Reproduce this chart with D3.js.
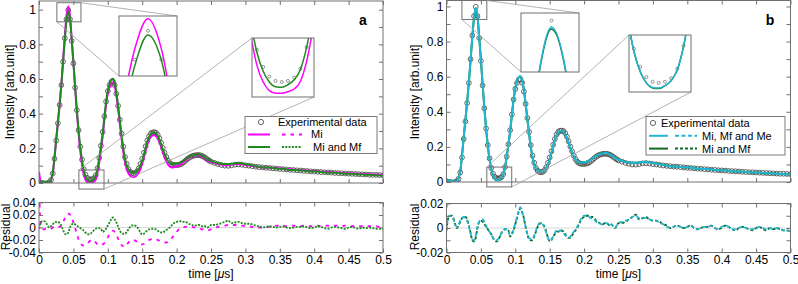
<!DOCTYPE html>
<html>
<head>
<meta charset="utf-8">
<script src="https://cdn.jsdelivr.net/npm/d3@7"></script>
<style>
  body { margin: 0; background: #fff; }
  svg { font-family: "Liberation Sans", Arial, sans-serif; }
</style>
</head>
<body>
<svg id="chart" width="798" height="284"></svg>
<script>
// sample instants of the measurement (us): 2.5 ns steps up to 0.25, then 5 ns
const sampleTimes = d3.range(0, 101).map(i => +(i * 0.0025).toFixed(4))
    .concat(d3.range(1, 51).map(i => +(0.25 + i * 0.005).toFixed(4)));

// experimental intensity (arb. unit)
const expData = [
    0.000, 0.000, -0.002, -0.003, -0.003, -0.001, 0.004, 0.018, 0.055, 0.140,
    0.245, 0.345, 0.450, 0.565, 0.700, 0.835, 0.945, 0.998, 0.945, 0.820,
    0.690, 0.550, 0.420, 0.305, 0.210, 0.135, 0.080, 0.048, 0.030, 0.022,
    0.020, 0.022, 0.028, 0.045, 0.085, 0.145, 0.215, 0.295, 0.385, 0.470,
    0.530, 0.565, 0.583, 0.585, 0.565, 0.515, 0.445, 0.365, 0.285, 0.210,
    0.150, 0.110, 0.080, 0.064, 0.057, 0.055, 0.058, 0.068, 0.085, 0.110,
    0.140, 0.175, 0.212, 0.245, 0.270, 0.285, 0.292, 0.293, 0.290, 0.278,
    0.258, 0.232, 0.202, 0.175, 0.150, 0.130, 0.116, 0.108, 0.104, 0.103,
    0.103, 0.104, 0.107, 0.112, 0.119, 0.127, 0.136, 0.144, 0.150, 0.155,
    0.158, 0.160, 0.161, 0.161, 0.159, 0.155, 0.150, 0.143, 0.136, 0.129,
    0.123,
    0.116, 0.109, 0.104, 0.100, 0.099, 0.102, 0.106, 0.107, 0.105, 0.102,
    0.100, 0.097, 0.094, 0.092, 0.090, 0.088, 0.087, 0.085, 0.083, 0.081,
    0.080, 0.078, 0.076, 0.075, 0.073, 0.072, 0.070, 0.069, 0.067, 0.066,
    0.065, 0.063, 0.062, 0.061, 0.060, 0.058, 0.057, 0.056, 0.055, 0.054,
    0.053, 0.052, 0.051, 0.050, 0.049, 0.048, 0.047, 0.047, 0.046, 0.045
];

// residuals (fit - data) of each model
const residMi = [
    0.065, 0.006, -0.002, -0.003, -0.002, -0.003, -0.003, -0.002, 0.000, 0.002,
    0.002, 0.001, 0.001, 0.003, 0.008, 0.015, 0.020, 0.022, 0.021, 0.016,
    0.008, -0.001, -0.010, -0.019, -0.025, -0.028, -0.029, -0.028, -0.026, -0.023,
    -0.021, -0.020, -0.021, -0.024, -0.027, -0.028, -0.028, -0.027, -0.025, -0.021,
    -0.016, -0.011, -0.007, -0.005, -0.007, -0.012, -0.018, -0.024, -0.028, -0.030,
    -0.031, -0.028, -0.024, -0.021, -0.020, -0.020, -0.021, -0.023, -0.025, -0.027,
    -0.027, -0.026, -0.024, -0.022, -0.020, -0.019, -0.018, -0.018, -0.019, -0.020,
    -0.021, -0.022, -0.023, -0.024, -0.024, -0.023, -0.021, -0.018, -0.014, -0.010,
    -0.007, -0.004, -0.002, 0.000, 0.001, 0.001, 0.001, 0.001, 0.001, 0.001,
    0.000, 0.000, -0.001, -0.001, -0.002, -0.003, -0.004, -0.005, -0.005, -0.004,
    -0.003,
    -0.001, 0.001, 0.002, 0.003, 0.004, 0.004, 0.004, 0.003, 0.003, 0.002,
    0.002, 0.001, 0.001, 0.000, 0.000, 0.001, 0.001, 0.002, 0.003, 0.003,
    0.002, 0.002, 0.003, 0.003, 0.002, 0.002, 0.003, 0.003, 0.002, 0.003,
    0.003, 0.002, 0.003, 0.003, 0.002, 0.003, 0.003, 0.002, 0.003, 0.002,
    0.002, 0.003, 0.002, 0.002, 0.003, 0.002, 0.002, 0.002, 0.001, 0.001
];

const residMiMf = [
    -0.002, 0.008, 0.010, 0.010, 0.008, 0.003, 0.000, 0.002, 0.005, 0.008,
    0.009, 0.009, 0.007, 0.002, -0.004, -0.010, -0.011, -0.008, 0.000, 0.005,
    0.006, 0.005, 0.003, 0.001, -0.001, -0.003, -0.005, -0.008, -0.010, -0.011,
    -0.010, -0.007, -0.004, -0.002, -0.001, -0.001, -0.002, -0.007, -0.005, -0.002,
    0.003, 0.008, 0.013, 0.016, 0.013, 0.008, 0.001, -0.005, -0.009, -0.010,
    -0.010, -0.007, -0.003, 0.001, 0.003, 0.004, 0.003, 0.001, -0.003, -0.008,
    -0.011, -0.010, -0.007, -0.005, -0.003, -0.003, -0.002, -0.002, -0.003, -0.005,
    -0.007, -0.008, -0.008, -0.006, -0.004, -0.002, 0.000, 0.003, 0.006, 0.008,
    0.009, 0.010, 0.010, 0.010, 0.009, 0.009, 0.008, 0.006, 0.005, 0.004,
    0.003, 0.003, 0.004, 0.004, 0.003, 0.002, 0.003, 0.001, 0.000, 0.002,
    0.004,
    0.004, 0.005, 0.007, 0.009, 0.011, 0.007, 0.008, 0.009, 0.007, 0.006,
    0.006, 0.005, 0.003, 0.002, 0.000, 0.001, 0.002, 0.001, 0.000, 0.001,
    0.002, 0.000, -0.001, 0.000, 0.001, 0.001, 0.002, 0.000, -0.001, 0.000,
    0.002, 0.001, -0.001, -0.002, 0.000, 0.001, 0.000, -0.001, -0.002, 0.000,
    0.001, -0.001, -0.002, 0.000, -0.001, 0.000, -0.001, -0.002, -0.002, -0.003
];

const residMiMfMe = [
    -0.002, 0.009, 0.010, 0.009, 0.007, 0.003, 0.001, 0.003, 0.006, 0.008,
    0.009, 0.008, 0.006, 0.001, -0.004, -0.009, -0.010, -0.006, 0.001, 0.005,
    0.007, 0.007, 0.005, 0.002, -0.001, -0.003, -0.005, -0.008, -0.010, -0.010,
    -0.009, -0.007, -0.004, -0.002, -0.001, -0.001, -0.003, -0.006, -0.004, -0.001,
    0.004, 0.009, 0.014, 0.017, 0.013, 0.007, 0.001, -0.005, -0.008, -0.009,
    -0.009, -0.006, -0.002, 0.002, 0.004, 0.004, 0.003, 0.000, -0.004, -0.008,
    -0.010, -0.009, -0.007, -0.004, -0.002, -0.003, -0.002, -0.003, -0.004, -0.006,
    -0.007, -0.008, -0.007, -0.005, -0.003, -0.001, 0.001, 0.004, 0.007, 0.009,
    0.010, 0.010, 0.010, 0.009, 0.008, 0.008, 0.007, 0.005, 0.004, 0.004,
    0.003, 0.003, 0.004, 0.004, 0.003, 0.002, 0.003, 0.001, 0.000, 0.002,
    0.004,
    0.005, 0.006, 0.007, 0.009, 0.010, 0.008, 0.008, 0.008, 0.007, 0.006,
    0.006, 0.004, 0.003, 0.001, 0.000, 0.001, 0.002, 0.001, 0.000, 0.001,
    0.002, 0.000, -0.001, 0.000, 0.001, 0.001, 0.002, 0.000, -0.001, 0.001,
    0.002, 0.001, -0.001, -0.001, 0.000, 0.001, 0.000, -0.001, -0.001, 0.000,
    0.001, 0.000, -0.001, 0.000, -0.001, 0.000, -0.001, -0.002, -0.002, -0.003
];

const xTicks = [0, 0.05, 0.1, 0.15, 0.2, 0.25, 0.3, 0.35, 0.4, 0.45, 0.5];
const xTickLabels = ['0', '0.05', '0.1', '0.15', '0.2', '0.25', '0.3', '0.35', '0.4', '0.45', '0.5'];
const yTicks = [0, 0.1, 0.2, 0.3, 0.4, 0.5, 0.6, 0.7, 0.8, 0.9, 1];
const yTickLabels = ['0', '', '0.2', '', '0.4', '', '0.6', '', '0.8', '', '1'];
const residTicksA = [-0.04, -0.02, 0, 0.02, 0.04];
const residLabelsA = ['-0.04', '-0.02', '0', '0.02', '0.04'];
const residTicksB = [-0.02, -0.01, 0, 0.01, 0.02];
const residLabelsB = ['-0.02', '', '0', '', '0.02'];

const FRAME = '#707070';
const FONT = '"Liberation Sans", Arial, sans-serif';
const svg = d3.select('#chart');

function styleAxis(g) {
    g.attr('font-family', FONT).attr('font-size', 12);
    g.select('.domain').remove();
    g.selectAll('.tick line').attr('stroke', FRAME);
    g.selectAll('.tick text').attr('fill', '#000');
}

function curvePath(xs, ys, values) {
    return d3.line()
        .x((d, i) => xs(sampleTimes[i]))
        .y(d => ys(d))
        .curve(d3.curveMonotoneX)(values);
}

function frameAxes(g, x, y, top, bottom, left, right, opts) {
    g.append('g').attr('transform', `translate(0,${bottom})`)
        .call(d3.axisBottom(x).tickValues(xTicks).tickSize(-4).tickPadding(2.5)
            .tickFormat((d, i) => opts.xLabels ? xTickLabels[i] : ''))
        .call(styleAxis);
    g.append('g').attr('transform', `translate(0,${top})`)
        .call(d3.axisTop(x).tickValues(xTicks).tickSize(-4).tickFormat(''))
        .call(styleAxis);
    g.append('g').attr('transform', `translate(${left},0)`)
        .call(d3.axisLeft(y).tickValues(opts.yTicks).tickSize(-4).tickPadding(3)
            .tickFormat((d, i) => opts.yLabels[i]))
        .call(styleAxis);
    g.append('g').attr('transform', `translate(${right},0)`)
        .call(d3.axisRight(y).tickValues(opts.yTicks).tickSize(-4).tickFormat(''))
        .call(styleAxis);
    g.append('rect')
        .attr('x', left).attr('y', top)
        .attr('width', right - left).attr('height', bottom - top)
        .attr('fill', 'none').attr('stroke', FRAME).attr('stroke-width', 1);
}

function drawPanel(p) {
    const g = svg.append('g');
    const x = d3.scaleLinear().domain([0, 0.5]).range([p.left, p.right]);
    const y = d3.scaleLinear().domain([0, p.yMax]).range([p.mainBottom, p.mainTop]);
    const yr = d3.scaleLinear().domain([-p.residLim, p.residLim]).range([p.residBottom, p.residTop]);

    const defs = g.append('defs');
    defs.append('clipPath').attr('id', p.id + '-main').append('rect')
        .attr('x', p.left).attr('y', p.mainTop)
        .attr('width', p.right - p.left).attr('height', p.mainBottom - p.mainTop);
    defs.append('clipPath').attr('id', p.id + '-res').append('rect')
        .attr('x', p.left).attr('y', p.residTop)
        .attr('width', p.right - p.left).attr('height', p.residBottom - p.residTop);

    // main plot
    const plot = g.append('g').attr('clip-path', `url(#${p.id}-main)`);
    plot.selectAll('circle').data(expData).join('circle')
        .attr('cx', (d, i) => x(sampleTimes[i]))
        .attr('cy', d => y(d))
        .attr('r', 2.4)
        .attr('fill', 'none')
        .attr('stroke', '#4a4a4a')
        .attr('stroke-width', 0.85);
    p.fits.forEach(f => {
        const fit = expData.map((v, i) => v + f.resid[i]);
        plot.append('path').attr('d', curvePath(x, y, fit))
            .attr('fill', 'none').attr('stroke', f.color).attr('stroke-width', 2);
    });
    frameAxes(g, x, y, p.mainTop, p.mainBottom, p.left, p.right,
        { xLabels: false, yTicks: yTicks, yLabels: yTickLabels });

    // zoom insets
    p.insets.forEach((ins, k) => {
        const sx0 = x(ins.src[0]), sx1 = x(ins.src[1]);
        const sy0 = y(ins.src[3]), sy1 = y(ins.src[2]);
        const b = ins.box;
        const corner = (c, x0, y0, x1, y1) => [c[1] === 'l' ? x0 : x1, c[0] === 't' ? y0 : y1];
        g.append('rect').attr('x', sx0).attr('y', sy0)
            .attr('width', sx1 - sx0).attr('height', sy1 - sy0)
            .attr('fill', 'none').attr('stroke', FRAME).attr('stroke-width', 1);
        ins.links.forEach(c => {
            const a = corner(c, sx0, sy0, sx1, sy1);
            const e = corner(c, b.x, b.y, b.x + b.w, b.y + b.h);
            g.append('line').attr('x1', a[0]).attr('y1', a[1]).attr('x2', e[0]).attr('y2', e[1])
                .attr('stroke', '#a0a0a0').attr('stroke-width', 0.8);
        });
        const cid = `${p.id}-ins${k}`;
        defs.append('clipPath').attr('id', cid).append('rect')
            .attr('x', b.x).attr('y', b.y).attr('width', b.w).attr('height', b.h);
        g.append('rect').attr('x', b.x).attr('y', b.y).attr('width', b.w).attr('height', b.h)
            .attr('fill', '#fff');
        const ix = d3.scaleLinear().domain(ins.viewX).range([b.x, b.x + b.w]);
        const iy = d3.scaleLinear().domain(ins.viewY).range([b.y + b.h, b.y]);
        const ig = g.append('g').attr('clip-path', `url(#${cid})`);
        ig.selectAll('circle').data(expData).join('circle')
            .attr('cx', (d, i) => ix(sampleTimes[i]))
            .attr('cy', d => iy(d))
            .attr('r', 1.5)
            .attr('fill', 'none').attr('stroke', '#6a6a6a').attr('stroke-width', 0.7);
        p.fits.forEach(f => {
            const fit = expData.map((v, i) => v + f.resid[i]);
            ig.append('path').attr('d', curvePath(ix, iy, fit))
                .attr('fill', 'none').attr('stroke', f.color).attr('stroke-width', 1.5);
        });
        g.append('rect').attr('x', b.x).attr('y', b.y).attr('width', b.w).attr('height', b.h)
            .attr('fill', 'none').attr('stroke', FRAME).attr('stroke-width', 1);
    });

    // legend
    const L = p.legend;
    g.append('rect').attr('x', L.x).attr('y', L.y).attr('width', L.w).attr('height', L.h)
        .attr('fill', '#fff').attr('stroke', '#7a7a7a').attr('stroke-width', 1);
    g.append('circle').attr('cx', L.markX).attr('cy', L.rows[0])
        .attr('r', 2.6).attr('fill', 'none').attr('stroke', '#555').attr('stroke-width', 0.9);
    g.append('text').attr('x', L.textX0).attr('y', L.rows[0] + 3.9)
        .attr('font-size', 11).attr('fill', '#000').text('Experimental data');
    L.order.forEach((fi, i) => {
        const f = p.fits[fi];
        const ry = L.rows[i + 1];
        g.append('line').attr('x1', L.solid[0]).attr('x2', L.solid[1]).attr('y1', ry).attr('y2', ry)
            .attr('stroke', f.color).attr('stroke-width', 2);
        g.append('line').attr('x1', L.dash[0]).attr('x2', L.dash[1]).attr('y1', ry).attr('y2', ry)
            .attr('stroke', f.color).attr('stroke-width', 2).attr('stroke-dasharray', f.dash);
        g.append('text').attr('x', L.textX[i]).attr('y', ry + 3.9)
            .attr('font-size', 11).attr('fill', '#000').text(f.name);
    });

    // panel letter
    g.append('text').attr('x', p.letterX).attr('y', 25).attr('text-anchor', 'middle')
        .attr('font-size', 14).attr('font-weight', 'bold').text(p.letter);

    // residual plot
    const res = g.append('g').attr('clip-path', `url(#${p.id}-res)`);
    res.append('line').attr('x1', p.left).attr('x2', p.right)
        .attr('y1', yr(0)).attr('y2', yr(0)).attr('stroke', '#d8d8d8').attr('stroke-width', 1);
    p.fits.forEach(f => {
        res.append('path').attr('d', curvePath(x, yr, f.resid))
            .attr('fill', 'none').attr('stroke', f.color).attr('stroke-width', 1.8)
            .attr('stroke-dasharray', f.dash);
    });
    frameAxes(g, x, yr, p.residTop, p.residBottom, p.left, p.right,
        { xLabels: true, yTicks: p.residTicks, yLabels: p.residLabels });

    // axis titles
    g.append('text').attr('transform', `translate(${p.yTitleX},92) rotate(-90)`)
        .attr('text-anchor', 'middle').attr('dy', '0.35em').attr('font-size', 12)
        .text('Intensity [arb.unit]');
    g.append('text').attr('transform', `translate(${p.yTitleX - p.residTitleShift},227) rotate(-90)`)
        .attr('text-anchor', 'middle').attr('dy', '0.35em').attr('font-size', 12)
        .text('Residual');
    const xt = g.append('text').attr('x', (p.left + p.right) / 2).attr('y', 277.5)
        .attr('text-anchor', 'middle').attr('font-size', 12);
    xt.append('tspan').text('time [');
    xt.append('tspan').attr('font-style', 'italic').text('\u03bc');
    xt.append('tspan').text('s]');
}

drawPanel({
    id: 'pa', letter: 'a', letterX: 363,
    left: 39, right: 383, mainTop: 1, mainBottom: 183, yMax: 1.05,
    residTop: 202.5, residBottom: 252.5, residLim: 0.04,
    residTicks: residTicksA, residLabels: residLabelsA,
    yTitleX: 10, residTitleShift: 4,
    fits: [
        { name: 'Mi', resid: residMi, color: '#ff00ff', dash: '3.5,5' },
        { name: 'Mi and Mf', resid: residMiMf, color: '#1f8a1f', dash: '2,1.3' }
    ],
    insets: [
        { src: [0.026, 0.061, 0.93, 1.04], viewX: [0.037, 0.048], viewY: [0.915, 1.025],
          box: { x: 119, y: 16, w: 58, h: 60 }, links: ['tr', 'bl'] },
        { src: [0.058, 0.0945, -0.035, 0.075], viewX: [0.063, 0.088], viewY: [-0.008, 0.102],
          box: { x: 252, y: 38, w: 62, h: 59 }, links: ['tl', 'br'] }
    ],
    legend: { x: 245, y: 116.5, w: 132, h: 37, rows: [122, 134.5, 147], order: [0, 1],
        markX: 261, textX0: 278, solid: [248, 270], dash: [282, 302], textX: [311, 313] }
});

drawPanel({
    id: 'pb', letter: 'b', letterX: 770,
    left: 446.5, right: 790.5, mainTop: 0.5, mainBottom: 182, yMax: 1.034,
    residTop: 203.5, residBottom: 252.5, residLim: 0.02,
    residTicks: residTicksB, residLabels: residLabelsB,
    yTitleX: 415, residTitleShift: 0,
    fits: [
        { name: 'Mi and Mf', resid: residMiMf, color: '#0d6b22', dash: '3,2' },
        { name: 'Mi, Mf and Me', resid: residMiMfMe, color: '#22b6d6', dash: '4,2.5' }
    ],
    insets: [
        { src: [0.0224, 0.0586, 0.926, 1.034], viewX: [0.0375, 0.047], viewY: [0.95, 1.005],
          box: { x: 521, y: 13, w: 58, h: 59 }, links: ['tr', 'bl'] },
        { src: [0.0586, 0.0948, -0.028, 0.085], viewX: [0.063, 0.088], viewY: [0.004, 0.104],
          box: { x: 629, y: 35, w: 62, h: 57 }, links: ['tl', 'br'] }
    ],
    legend: { x: 646, y: 116.5, w: 139, h: 38.5, rows: [123, 135.8, 148.6], order: [1, 0],
        markX: 653, textX0: 661, solid: [649, 668], dash: [675, 697], textX: [702, 702] }
});
</script>
</body>
</html>
